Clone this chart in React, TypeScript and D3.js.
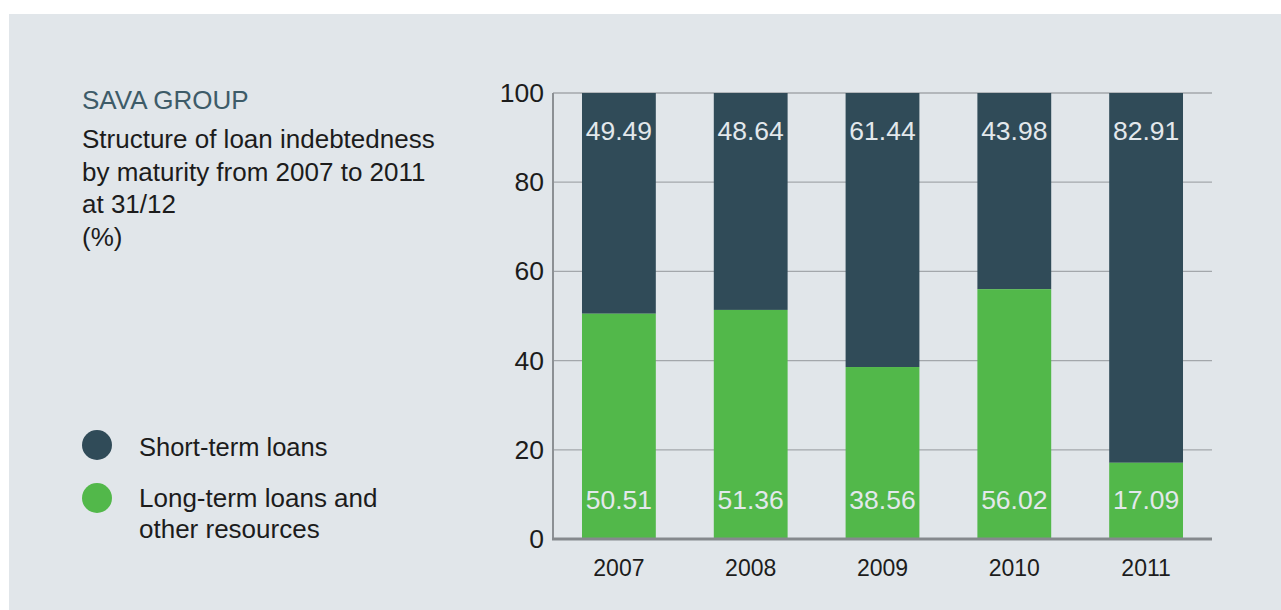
import React from "react";
import * as d3 from "d3";

const years = ["2007", "2008", "2009", "2010", "2011"];
const shortTerm = [49.49, 48.64, 61.44, 43.98, 82.91];
const longTerm = [50.51, 51.36, 38.56, 56.02, 17.09];
const yTicks = [0, 20, 40, 60, 80, 100];
const titleLines = ["Structure of loan indebtedness", "by maturity from 2007 to 2011", "at 31/12", "(%)"];

const W = 1281;
const H = 610;
const DARK = "#304b58";
const GREEN = "#52b84a";
const BG = "#e1e6ea";
const FONT = "'Liberation Sans', Arial, Helvetica, sans-serif";

export default function App() {
  const x = d3.scaleBand<string>().domain(years).range([553, 1212]).paddingInner(0.44).paddingOuter(0.22);
  const y = d3.scaleLinear().domain([0, 100]).range([539, 93]);
  const fmt = (v: number) => v.toFixed(2);

  return (
    <svg width={W} height={H} style={{ position: "absolute", left: 0, top: 0 }} fontFamily={FONT}>
      <rect x={0} y={0} width={W} height={H} fill="#ffffff" />
      <rect x={9} y={14} width={W - 9} height={H - 14} fill={BG} />

      <text x={82} y={109} fontSize={26} fill="#3d5b68">SAVA GROUP</text>
      {titleLines.map((t, i) => (
        <text key={t} x={82} y={148 + i * 32.7} fontSize={26} fill="#1c1c1c">{t}</text>
      ))}

      {/* legend */}
      <circle cx={97} cy={445} r={15} fill={DARK} />
      <text x={139} y={456} fontSize={25.5} fill="#1c1c1c">Short-term loans</text>
      <circle cx={97} cy={498} r={15} fill={GREEN} />
      <text x={139} y={507} fontSize={26} fill="#1c1c1c">Long-term loans and</text>
      <text x={139} y={538} fontSize={26} fill="#1c1c1c">other resources</text>

      {/* gridlines */}
      {yTicks.filter((t) => t > 0).map((t) => (
        <line key={t} x1={553} x2={1212} y1={y(t)} y2={y(t)} stroke="#a3a7ab" strokeWidth={1.3} />
      ))}
      {yTicks.map((t) => (
        <text key={"l" + t} x={544} y={y(t) + 9} fontSize={26.5} textAnchor="end" fill="#1c1c1c">{t}</text>
      ))}

      {/* bars */}
      {years.map((yr, i) => {
        const bx = x(yr) as number;
        const bw = x.bandwidth();
        const cx = bx + bw / 2;
        return (
          <g key={yr}>
            <rect x={bx} y={y(100)} width={bw} height={y(longTerm[i]) - y(100)} fill={DARK} />
            <rect x={bx} y={y(longTerm[i])} width={bw} height={y(0) - y(longTerm[i])} fill={GREEN} />
            <text x={cx} y={y(100) + 47} fontSize={26.5} textAnchor="middle" fill="#e3e8ec">{fmt(shortTerm[i])}</text>
            <text x={cx} y={y(0) - 30} fontSize={26.5} textAnchor="middle" fill="#e3e8ec">{fmt(longTerm[i])}</text>
            <text x={cx} y={576} fontSize={23} textAnchor="middle" fill="#1c1c1c">{yr}</text>
          </g>
        );
      })}

      {/* axes */}
      <line x1={553} x2={553} y1={y(100)} y2={y(0)} stroke="#8c9094" strokeWidth={2} />
      <line x1={552} x2={1212} y1={y(0)} y2={y(0)} stroke="#85898d" strokeWidth={3} />
    </svg>
  );
}
